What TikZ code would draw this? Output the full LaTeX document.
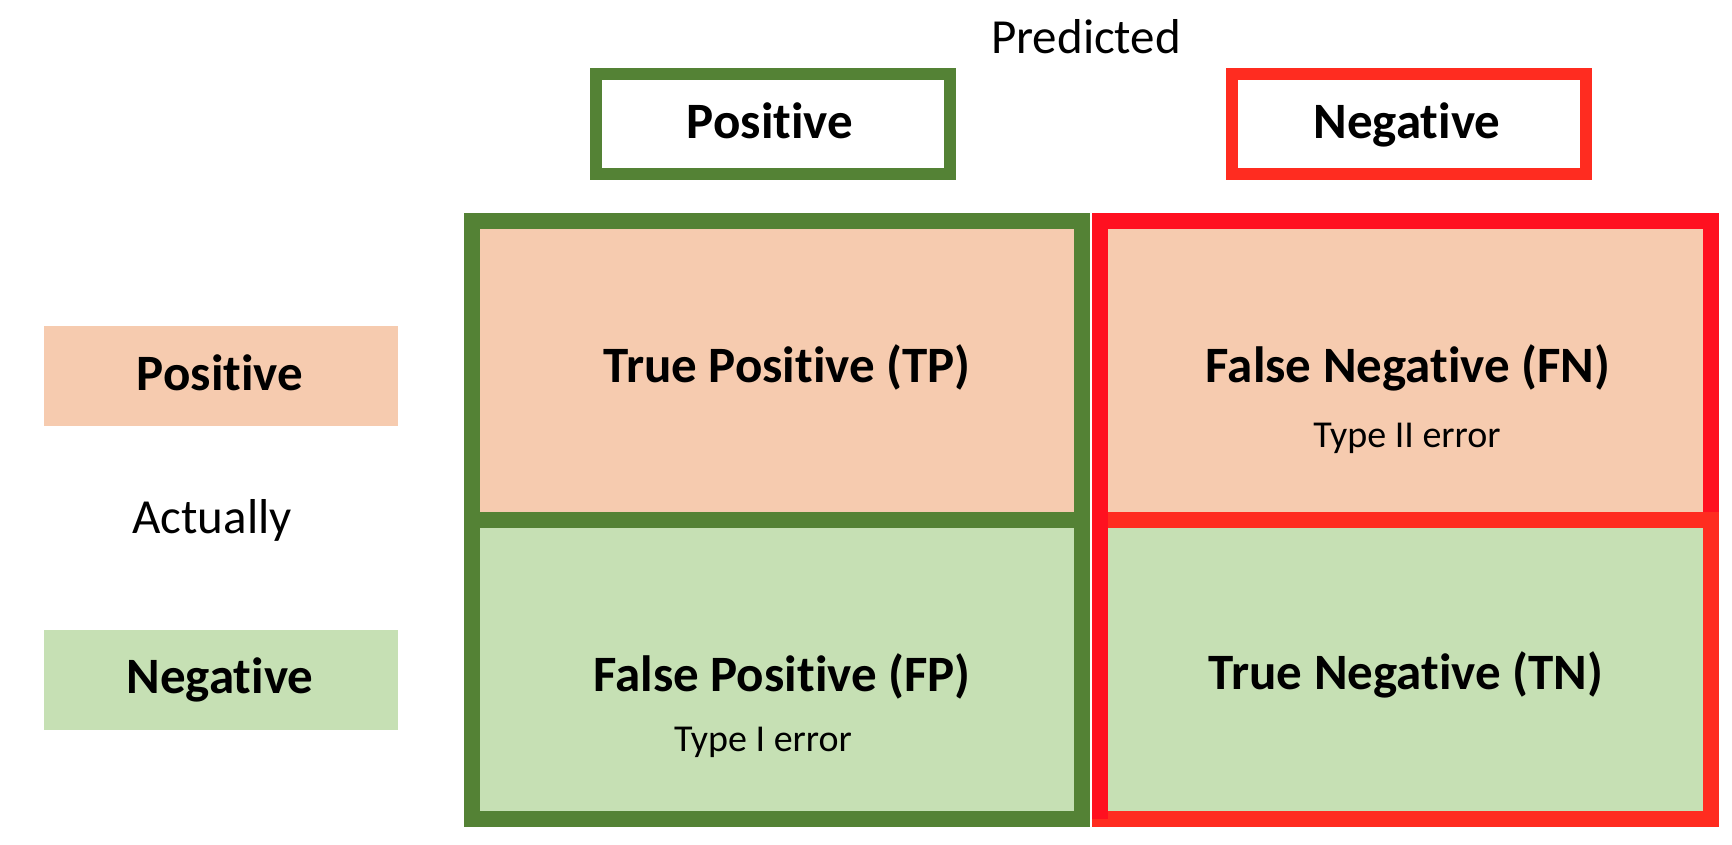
\documentclass[tikz,border=0pt]{standalone}
\usepackage{fontspec}
\setmainfont{Carlito}[Ligatures={NoCommon,NoContextual}]
\definecolor{frgreen}{RGB}{84,130,53}
\definecolor{peach}{RGB}{246,203,175}
\definecolor{lgreen}{RGB}{198,224,180}
\definecolor{redA}{RGB}{255,16,32}
\definecolor{redB}{RGB}{255,44,32}
\begin{document}
\begin{tikzpicture}[x=1pt,y=-1pt,
  big/.style={font=\fontsize{51}{61}\selectfont\bfseries, anchor=base, inner sep=0pt},
  reg/.style={font=\fontsize{49}{58}\selectfont, anchor=base, inner sep=0pt},
  small/.style={font=\fontsize{38}{46}\selectfont, anchor=base, inner sep=0pt},
  cell/.style={draw=none, inner sep=0pt, minimum width=610pt, minimum height=299pt},
  lbox/.style={draw=none, inner sep=0pt, minimum width=354pt, minimum height=100pt},
  hbox/.style={line width=12pt, fill=white, inner sep=0pt, minimum width=354pt, minimum height=100pt},
  frame/.style={line width=16pt}]
\useasboundingbox (0,0) rectangle (1732,844);
\fill[white] (0,0) rectangle (1732,844);
% title
\node[reg] (pred) at (1086,53) {Predicted};
% header boxes
\node[hbox, draw=frgreen] (hpos) at (773,124) {};
\node[hbox, draw=redB] (hneg) at (1409,124) {};
\node[big] (hpost) at (770,138) {Positive};
\node[big] (hnegt) at (1407,138) {Negative};
% left labels
\node[lbox, fill=peach] (lpos) at (221,376) {};
\node[lbox, fill=lgreen] (lneg) at (221,680) {};
\node[big] (lpost) at (220,390) {Positive};
\node[big] (lnegt) at (220,693) {Negative};
\node[reg] (act) at (212,533) {Actually};
% cells
\node[cell, fill=peach] (tp) at (777,370.5) {};
\node[cell, fill=lgreen] (fp) at (777,669.5) {};
\node[cell, fill=peach] (fn) at (1405.5,370.5) {};
\node[cell, fill=lgreen] (tn) at (1405.5,669.5) {};
% frames
\draw[frame, frgreen] (tp.north west) rectangle (fp.south east);
\draw[frame, frgreen] (tp.south west) -- (tp.south east);
\draw[frame, redA] (fn.north west) rectangle (fn.south east);
\draw[frame, redB] (tn.north west) rectangle (tn.south east);
\draw[frame, redA] (fn.north west) -- (tn.south west);
% cell texts
\node[big] (tpt) at (787,382) {True Positive (TP)};
\node[big] (fnt) at (1408,382) {False Negative (FN)};
\node[small] (t2) at (1407,447) {Type II error};
\node[big] (fpt) at (782,691) {False Positive (FP)};
\node[small] (t1) at (763,751) {Type I error};
\node[big] (tnt) at (1406,689) {True Negative (TN)};
\end{tikzpicture}
\end{document}
